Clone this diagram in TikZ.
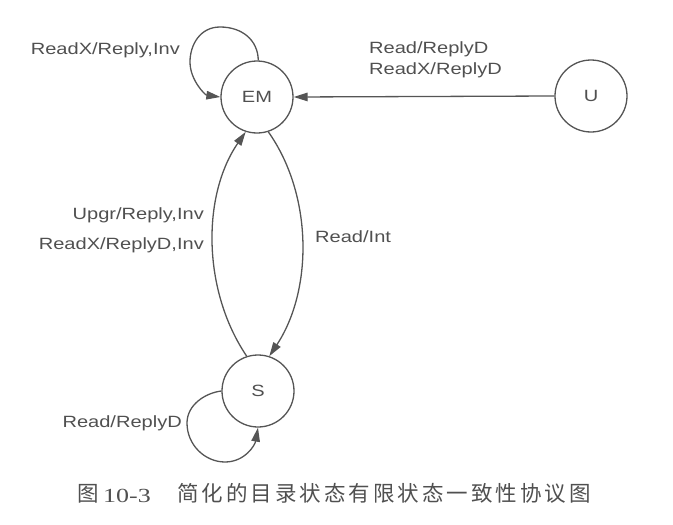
\documentclass[tikz,border=0pt]{standalone}
\usepackage{fontspec}
\usetikzlibrary{arrows.meta}
\newfontfamily\labfont{Liberation Sans}[FakeStretch=1.23]
\newfontfamily\cjkfont{Noto Sans CJK SC}[LetterSpace=14]
\newfontfamily\cjkplain{Noto Sans CJK SC}
\newfontfamily\numfont{Liberation Serif}[FakeStretch=1.3]
\definecolor{linegray}{HTML}{555555}
\definecolor{textgray}{HTML}{505050}
\begin{document}
\begin{tikzpicture}[x=1pt,y=-1pt,
  state/.style={circle,draw=linegray,line width=1.3pt,minimum size=72pt,inner sep=0pt,
    font=\labfont\fontsize{16.3}{19}\selectfont,text=textgray},
  lab/.style={font=\labfont\fontsize{16.3}{19}\selectfont,text=textgray,inner sep=0pt},
  arr/.style={draw=linegray,line width=1.3pt,-{Triangle[length=14pt,width=8.5pt]}},
  captext/.style={text=textgray,inner sep=0pt}]
\useasboundingbox (0,0) rectangle (673,525);
\node[state] (EM) at (257,97) {EM};
\node[state] (U) at (591,96) {U};
\node[state] (S) at (258,391) {S};
% self loop EM
\draw[arr] (EM.88) .. controls (258,40) and (242,27) .. (220,27)
  .. controls (200,27) and (190,45) .. (190,62)
  .. controls (190,80) and (205,95) .. (EM.west);
% U -> EM
\draw[arr] (U.west) -- (EM.east);
% EM -> S
\draw[arr] (EM.-72) .. controls (313,195) and (313,290) .. (S.72);
% S -> EM
\draw[arr] (S.108) .. controls (202,290) and (202,195) .. (EM.-108);
% self loop S
\draw[arr] (S.west) .. controls (205,393) and (187,405) .. (187,423)
  .. controls (187,445) and (205,462) .. (225,462)
  .. controls (245,462) and (255,445) .. (S.-90);
% labels
\node[lab,anchor=base east] (l1) at (180,54) {ReadX/Reply,Inv};
\node[lab,anchor=base west] (l2) at (369,53) {Read/ReplyD};
\node[lab,anchor=base west] (l3) at (369,74) {ReadX/ReplyD};
\node[lab,anchor=base east] (l4) at (204,219) {Upgr/Reply,Inv};
\node[lab,anchor=base east] (l5) at (204,249) {ReadX/ReplyD,Inv};
\node[lab,anchor=base west] (l6) at (315,242) {Read/Int};
\node[lab,anchor=base east] (l7) at (182,427) {Read/ReplyD};
% caption
\node[captext,anchor=base west,font=\cjkplain\fontsize{21.5}{25}\selectfont] (c1) at (77,501) {图};
\node[captext,anchor=base west,font=\numfont\fontsize{20}{24}\selectfont] (c2) at (103,502) {10-3};
\node[captext,anchor=base west,font=\cjkfont\fontsize{21.5}{25}\selectfont] (c3) at (177,501) {简化的目录状态有限状态一致性协议图};
\end{tikzpicture}
\end{document}
